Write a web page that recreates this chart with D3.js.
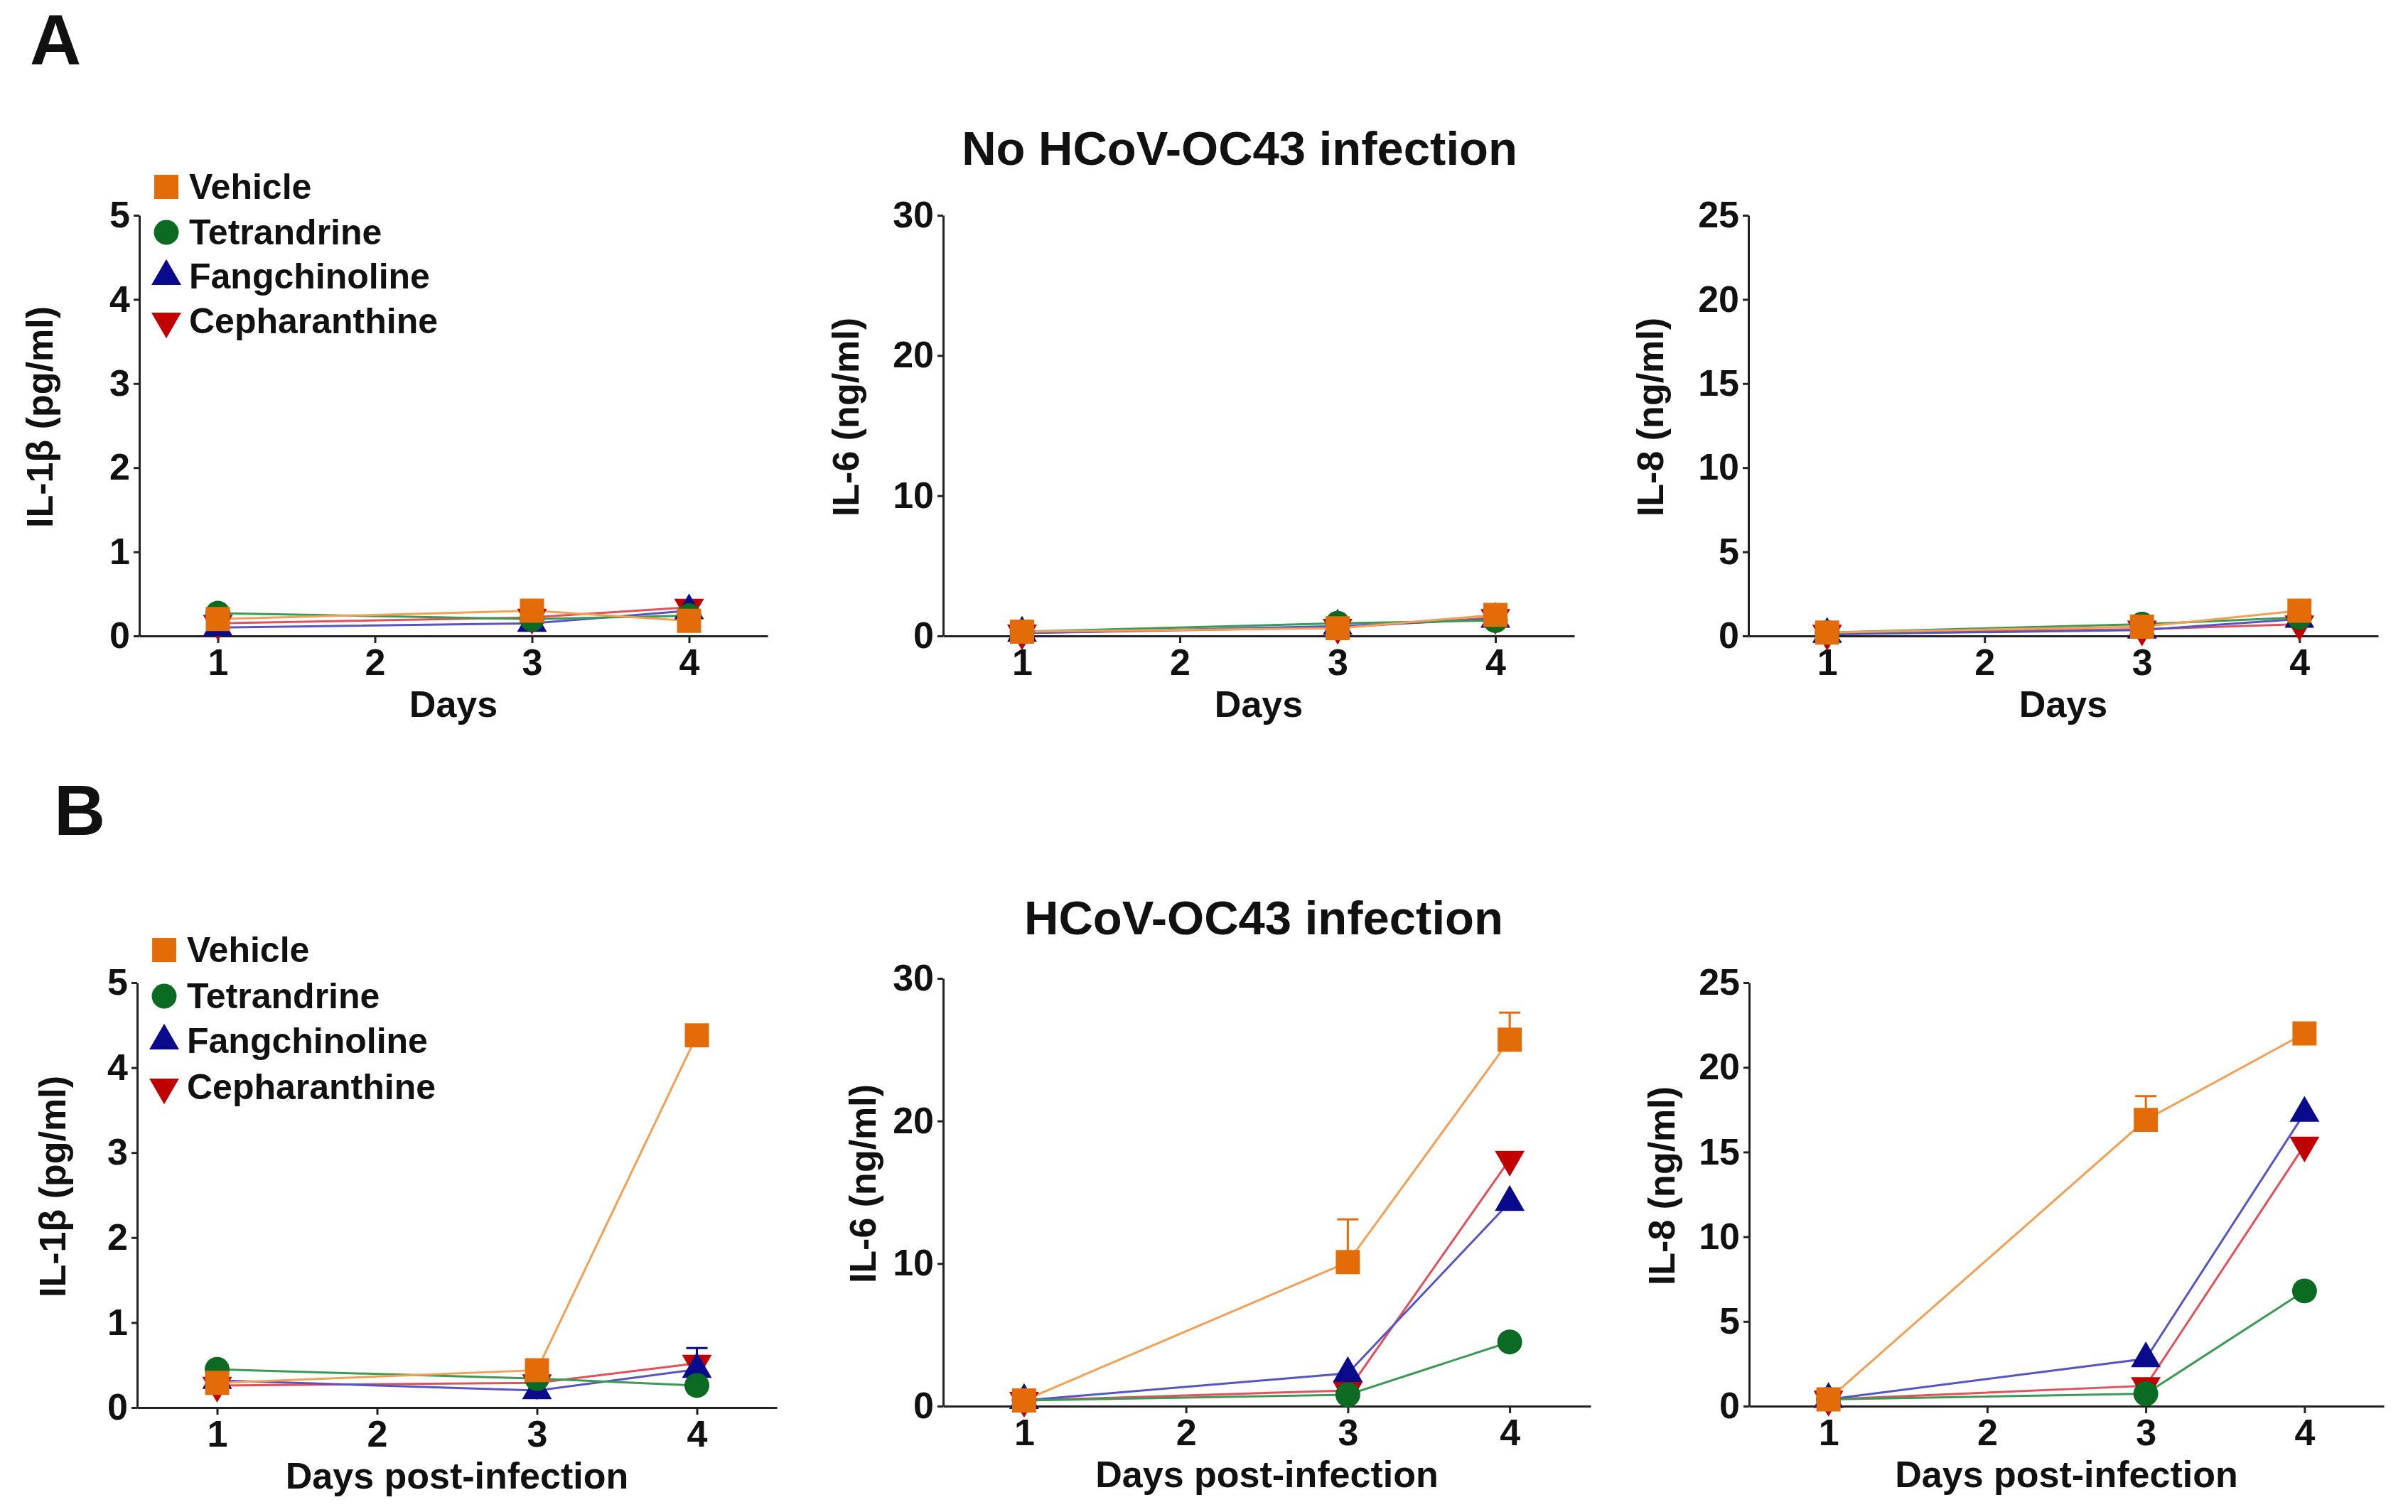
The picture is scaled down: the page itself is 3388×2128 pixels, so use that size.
<!DOCTYPE html>
<html>
<head>
<meta charset="utf-8">
<script src="https://cdn.jsdelivr.net/npm/d3@7"></script>
<style>
  body { margin: 0; background: #fff; }
  text { font-family: "Liberation Sans", Arial, sans-serif; font-weight: bold; fill: #111; }
</style>
</head>
<body>
<script>
// data (series order: Vehicle, Tetrandrine, Fangchinoline, Cepharanthine)
const days = [1, 3, 4];
const dayTicks = [1, 2, 3, 4];
const seriesNames = ["Vehicle", "Tetrandrine", "Fangchinoline", "Cepharanthine"];

// A: no infection
const il1bMock = [[0.20, 0.30, 0.18], [0.27, 0.20, 0.24], [0.10, 0.15, 0.30], [0.15, 0.22, 0.34]];
const il6Mock  = [[0.3, 0.55, 1.5], [0.3, 0.9, 1.1], [0.2, 0.7, 1.2], [0.2, 0.6, 1.3]];
const il8Mock  = [[0.2, 0.55, 1.5], [0.2, 0.7, 1.1], [0.1, 0.35, 1.0], [0.15, 0.4, 0.7]];

// B: HCoV-OC43 infection
const il1bInf = [[0.29, 0.44, 4.38], [0.45, 0.34, 0.26], [0.32, 0.20, 0.45], [0.26, 0.29, 0.52]];
const il6Inf  = [[0.4, 10.1, 25.7], [0.4, 0.8, 4.5], [0.4, 2.3, 14.3], [0.4, 1.1, 17.3]];
const il8Inf  = [[0.4, 16.9, 22.0], [0.4, 0.73, 6.8], [0.4, 2.8, 17.3], [0.4, 1.2, 15.4]];

// upper error (SEM), 0 = no visible bar
const il1bInfSem = [[0, 0, 0], [0, 0, 0], [0, 0, 0.25], [0, 0, 0]];
const il6InfSem  = [[0, 3.0, 1.9], [0, 0, 0], [0, 0, 0], [0, 0, 0]];
const il8InfSem  = [[0, 1.4, 0], [0, 0, 0], [0, 0, 0], [0, 0, 0]];

const il1bTicks = [0, 1, 2, 3, 4, 5];
const il6Ticks = [0, 10, 20, 30];
const il8Ticks = [0, 5, 10, 15, 20, 25];

const markerColor = ["#e36c09", "#0b6b22", "#0a0a8c", "#c00000"];
const lineColor = ["#f2a055", "#3d9a55", "#5555c4", "#e2505c"];
const symbols = [d3.symbolSquare, d3.symbolCircle, d3.symbolTriangle, d3.symbolTriangle];
const symSize = [1150, 960, 760, 760];
const symRotate = [0, 0, 0, 180];

const W = 3388, H = 2128;
const svg = d3.select("body").append("svg").attr("width", W).attr("height", H);

function symbolPath(i) {
  return d3.symbol().type(symbols[i]).size(symSize[i])();
}

function drawPanel(p) {
  const x = d3.scaleLinear().domain([0.5, 4.5]).range([p.left, p.right]);
  const y = d3.scaleLinear().domain([0, d3.max(p.ticks)]).range([p.bottom, p.top]);
  const g = svg.append("g");

  const xa = g.append("g")
    .attr("transform", "translate(0," + p.bottom + ")")
    .call(d3.axisBottom(x).tickValues(dayTicks).tickFormat(d3.format("d"))
      .tickSize(10).tickSizeOuter(0).tickPadding(8));
  const ya = g.append("g")
    .attr("transform", "translate(" + p.left + ",0)")
    .call(d3.axisLeft(y).tickValues(p.ticks).tickFormat(d3.format("d"))
      .tickSize(8).tickSizeOuter(0).tickPadding(5));

  [xa, ya].forEach(function (a) {
    a.attr("font-size", null).attr("font-family", null);
    a.select(".domain").attr("stroke", "#222").attr("stroke-width", 3);
    a.selectAll(".tick line").attr("stroke", "#222").attr("stroke-width", 3);
    a.selectAll(".tick text").style("font-size", "52px").attr("fill", "#111");
  });

  // lines
  for (let s = 3; s >= 0; s--) {
    const pts = days.map(function (d, k) { return [d, p.data[s][k]]; });
    g.append("path")
      .datum(pts)
      .attr("fill", "none")
      .attr("stroke", lineColor[s])
      .attr("stroke-width", 3)
      .attr("d", d3.line().x(function (d) { return x(d[0]); }).y(function (d) { return y(d[1]); }));
  }

  // error bars (upper only, with cap)
  if (p.sem) {
    for (let s = 3; s >= 0; s--) {
      days.forEach(function (d, k) {
        const e = p.sem[s][k];
        if (!e) return;
        const v = p.data[s][k];
        g.append("line")
          .attr("x1", x(d)).attr("x2", x(d))
          .attr("y1", y(v)).attr("y2", y(v + e))
          .attr("stroke", markerColor[s]).attr("stroke-width", 3);
        g.append("line")
          .attr("x1", x(d) - 15).attr("x2", x(d) + 15)
          .attr("y1", y(v + e)).attr("y2", y(v + e))
          .attr("stroke", markerColor[s]).attr("stroke-width", 3);
      });
    }
  }

  // markers
  for (let s = 3; s >= 0; s--) {
    g.selectAll(null)
      .data(days.map(function (d, k) { return [d, p.data[s][k]]; }))
      .enter().append("path")
      .attr("d", symbolPath(s))
      .attr("fill", markerColor[s])
      .attr("transform", function (d) {
        return "translate(" + x(d[0]) + "," + y(d[1]) + ") rotate(" + symRotate[s] + ")";
      });
  }

  // axis titles
  g.append("text")
    .attr("x", (p.left + p.right) / 2)
    .attr("y", p.bottom + 96)
    .attr("text-anchor", "middle")
    .attr("dominant-baseline", "central")
    .style("font-size", "52px")
    .text(p.xLabel);
  g.append("text")
    .attr("transform", "translate(" + p.yLabelX + "," + ((p.top + p.bottom) / 2 - 12) + ") rotate(-90)")
    .attr("text-anchor", "middle")
    .attr("dominant-baseline", "central")
    .style("font-size", "52px")
    .text(p.yLabel);
}

function drawLegend(x0, rows) {
  const g = svg.append("g");
  seriesNames.forEach(function (name, i) {
    g.append("path")
      .attr("d", symbolPath(i))
      .attr("fill", markerColor[i])
      .attr("transform", "translate(" + x0 + "," + rows[i] + ") rotate(" + symRotate[i] + ")");
    g.append("text")
      .attr("x", x0 + 32)
      .attr("y", rows[i])
      .attr("dominant-baseline", "central")
      .style("font-size", "50px")
      .text(name);
  });
}

const panels = [
  { left: 196, right: 1080, top: 303, bottom: 895, ticks: il1bTicks, data: il1bMock,
    xLabel: "Days", yLabel: "IL-1\u03b2 (pg/ml)", yLabelX: 56 },
  { left: 1327, right: 2215, top: 303, bottom: 895, ticks: il6Ticks, data: il6Mock,
    xLabel: "Days", yLabel: "IL-6 (ng/ml)", yLabelX: 1190 },
  { left: 2460, right: 3346, top: 303, bottom: 895, ticks: il8Ticks, data: il8Mock,
    xLabel: "Days", yLabel: "IL-8 (ng/ml)", yLabelX: 2322 },
  { left: 193, right: 1093, top: 1383, bottom: 1981, ticks: il1bTicks, data: il1bInf, sem: il1bInfSem,
    xLabel: "Days post-infection", yLabel: "IL-1\u03b2 (pg/ml)", yLabelX: 74 },
  { left: 1327, right: 2238, top: 1377, bottom: 1979, ticks: il6Ticks, data: il6Inf, sem: il6InfSem,
    xLabel: "Days post-infection", yLabel: "IL-6 (ng/ml)", yLabelX: 1214 },
  { left: 2461, right: 3354, top: 1383, bottom: 1979, ticks: il8Ticks, data: il8Inf, sem: il8InfSem,
    xLabel: "Days post-infection", yLabel: "IL-8 (ng/ml)", yLabelX: 2338 }
];

panels.forEach(drawPanel);

drawLegend(234, [263, 327, 389, 452]);
drawLegend(231, [1337, 1402, 1465, 1530]);

// titles and panel letters
svg.append("text").attr("x", 1744).attr("y", 208)
  .attr("text-anchor", "middle").attr("dominant-baseline", "central")
  .style("font-size", "67px").text("No HCoV-OC43 infection");
svg.append("text").attr("x", 1778).attr("y", 1291)
  .attr("text-anchor", "middle").attr("dominant-baseline", "central")
  .style("font-size", "67px").text("HCoV-OC43 infection");
svg.append("text").attr("x", 42).attr("y", 91)
  .style("font-size", "100px").text("A");
svg.append("text").attr("x", 76).attr("y", 1175)
  .style("font-size", "100px").text("B");
</script>
</body>
</html>
